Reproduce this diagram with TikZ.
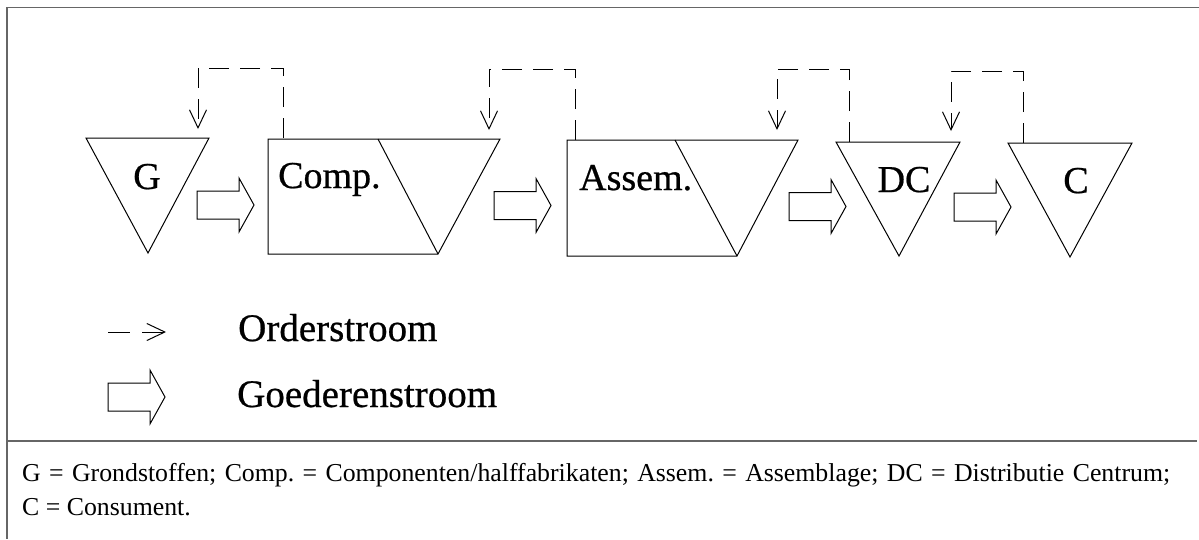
\documentclass[tikz,border=0pt]{standalone}
\usepackage{fontspec}
\setmainfont{Liberation Serif}
\newfontfamily\heavyserif[FakeBold=0.6]{Liberation Serif}
\usetikzlibrary{arrows.meta}
\frenchspacing
\tikzset{
  shapeline/.style={draw=black, line width=1pt, line join=miter},
  frameline/.style={draw=black!60, line width=1.2pt},
  order/.style={draw=black, line width=1pt, dash pattern=on 20pt off 11pt, -{Straight Barb[length=18pt,width=17pt,line width=1pt]}},
  lbl/.style={inner sep=0pt, anchor=base, font=\heavyserif\fontsize{38}{40}\selectfont},
  legtxt/.style={inner sep=0pt, anchor=base west, font=\heavyserif\fontsize{39}{42}\selectfont},
  foot/.style={inner sep=0pt, anchor=base west, font=\fontsize{25.8}{34}\selectfont},
  goods/.pic={\draw[shapeline] (0,-14) -- (42,-14) -- (42,-27) -- (57,0) -- (42,27) -- (42,14) -- (0,14) -- cycle;}
}
\begin{document}
\begin{tikzpicture}[x=1pt,y=-1pt]
\useasboundingbox (0,0) rectangle (1199,539);
% frame
\draw[frameline] (1199,7.5) -- (7,7.5) -- (7,539);
\draw[frameline] (7,441) -- (1197,441);
% G triangle
\coordinate (Ga) at (86,138); \coordinate (Gb) at (209,138); \coordinate (Gc) at (148,253);
\draw[shapeline] (Ga) -- (Gb) -- (Gc) -- cycle;
\node[lbl] (G) at (147,189) {G};
% Comp
\coordinate (Ca) at (268,139); \coordinate (Cb) at (500,139); \coordinate (Cc) at (438,254); \coordinate (Cd) at (268,254); \coordinate (Ce) at (378,139);
\draw[shapeline] (Ca) -- (Cb) -- (Cc) -- (Cd) -- cycle;
\draw[shapeline] (Ce) -- (Cc);
\node[lbl, anchor=base west] (Comp) at (278,188) {Comp.};
% Assem
\coordinate (Aa) at (567,140); \coordinate (Ab) at (798,140); \coordinate (Ac) at (737,256); \coordinate (Ad) at (567,256); \coordinate (Ae) at (675,140);
\draw[shapeline] (Aa) -- (Ab) -- (Ac) -- (Ad) -- cycle;
\draw[shapeline] (Ae) -- (Ac);
\node[lbl, anchor=base west] (Assem) at (579,190) {Assem.};
% DC
\coordinate (Da) at (836,142); \coordinate (Db) at (960,142); \coordinate (Dc) at (899,256);
\draw[shapeline] (Da) -- (Db) -- (Dc) -- cycle;
\node[lbl] (DC) at (904,192) {DC};
% C
\coordinate (Ka) at (1008,143); \coordinate (Kb) at (1132,143); \coordinate (Kc) at (1070,257);
\draw[shapeline] (Ka) -- (Kb) -- (Kc) -- cycle;
\node[lbl] (Cons) at (1076,193) {C};
% goods flow
\pic at (197,205) {goods};
\pic at (494,205.5) {goods};
\pic at (789,206.5) {goods};
\pic at (954,207) {goods};
% order flow
\coordinate (o1s) at (283,138); \coordinate (o1e) at (198,129);
\draw[order] (o1s) -- (283,68) -- (198,68) -- (o1e);
\coordinate (o2s) at (575,140); \coordinate (o2e) at (489,130);
\draw[order] (o2s) -- (575,69) -- (489,69) -- (o2e);
\coordinate (o3s) at (849,142); \coordinate (o3e) at (777,130);
\draw[order] (o3s) -- (849,69) -- (777,69) -- (o3e);
\coordinate (o4s) at (1023,143); \coordinate (o4e) at (951,131);
\draw[order] (o4s) -- (1023,71) -- (951,71) -- (o4e);
% legend
\coordinate (l1s) at (108,332); \coordinate (l1e) at (166,332);
\draw[order, dash pattern=on 22pt off 12pt] (l1s) -- (l1e);
\node[legtxt] (ord) at (238,341) {Orderstroom};
\pic at (108,397) {goods};
\node[legtxt] (goed) at (237,407) {Goederenstroom};
% footer
\node[foot] (f1) at (22,481)
  {\makebox[1148pt][s]{G = Grondstoffen; Comp. = Componenten/halffabrikaten; Assem. = Assemblage; DC = Distributie Centrum;}};
\node[foot] (f2) at (22,515) {C = Consument.};
\end{tikzpicture}
\end{document}
